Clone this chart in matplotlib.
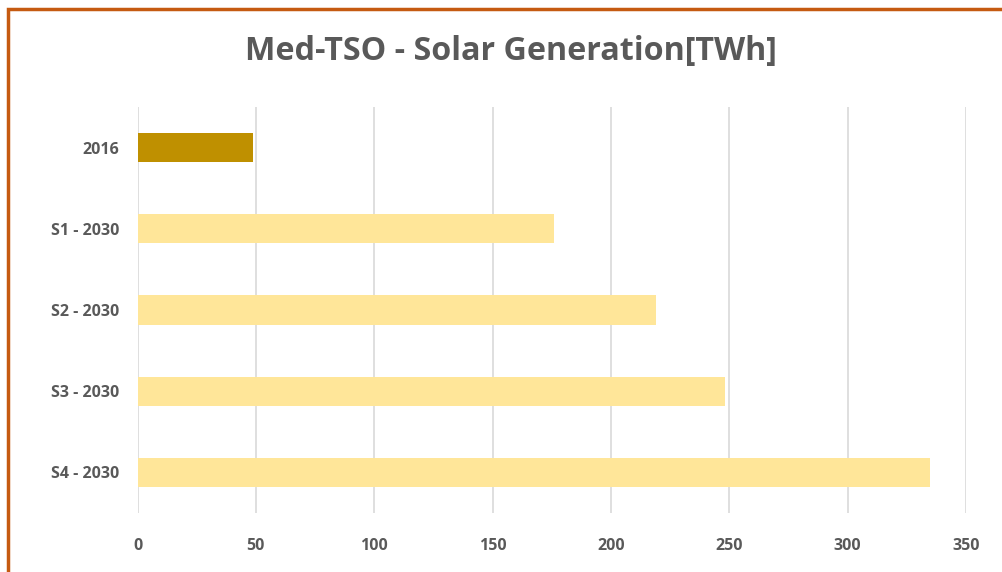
import matplotlib
matplotlib.use("Agg")
import matplotlib.pyplot as plt
from matplotlib.patches import Rectangle

plt.rcParams['font.family'] = ['Open Sans', 'DejaVu Sans']

# Daten
categories = ["2016", "S1 - 2030", "S2 - 2030", "S3 - 2030", "S4 - 2030"]
values = [49, 176, 219, 248, 335]
colors = ["#BF9000", "#FFE699", "#FFE699", "#FFE699", "#FFE699"]
xticks = [0, 50, 100, 150, 200, 250, 300, 350]

W, H = 1003, 572
fig = plt.figure(figsize=(W / 100, H / 100), dpi=100)
ax = fig.add_axes([137.5 / W, 1 - 513 / H, (966 - 137.5) / W, (513 - 107) / H])

ypos = list(range(len(categories)))
ax.barh(ypos, values, height=0.36, color=colors, zorder=2)

ax.set_xlim(0, 350)
ax.set_ylim(4.5, -0.5)
ax.set_xticks(xticks)
ax.set_yticks(ypos)
ax.set_yticklabels(categories)
ax.grid(axis="x", color="#D9D9D9", linewidth=1.2, zorder=0)
ax.tick_params(length=0, labelsize=11.5, labelcolor="#595959")
ax.tick_params(axis="x", pad=18)
ax.tick_params(axis="y", pad=13)
for lbl in ax.get_xticklabels() + ax.get_yticklabels():
    lbl.set_fontweight("bold")
for s in ax.spines.values():
    s.set_visible(False)

fig.text(511 / W, 1 - 52 / H, "Med-TSO - Solar Generation[TWh]", ha="center", va="center",
         fontsize=23.2, fontweight="bold", color="#595959")

# Rahmen
fig.patches.append(Rectangle((8.5 / W, -0.1), 1.2, 1 - 8.5 / H + 0.1, transform=fig.transFigure,
                             fill=False, edgecolor="#C55A11", linewidth=2.5))

fig.savefig("out.png", dpi=100)
